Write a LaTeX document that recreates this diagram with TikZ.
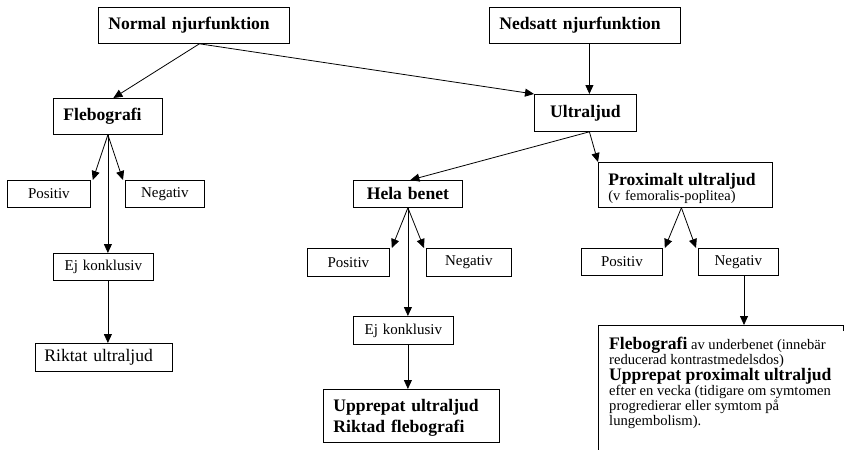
\documentclass[tikz,border=0pt]{standalone}
\usepackage{fontspec}
\setmainfont{Liberation Serif}
\usetikzlibrary{arrows.meta}
\begin{document}
\begin{tikzpicture}[x=1pt,y=-1pt,
  tbox/.style={draw=black, line width=0.8pt, anchor=north west,
    inner ysep=0pt, inner xsep=0pt, align=center},
  padded/.style={inner xsep=#1, align=left},
  head/.style={font=\bfseries\fontsize{17.6}{21}\selectfont},
  plain/.style={font=\fontsize{15}{18}\selectfont},
  arr/.style={line width=0.8pt, -{Triangle[length=9pt,width=8pt]}}
]
\useasboundingbox (0,0) rectangle (846,450);

% top level
\node[tbox, head, padded=10pt, text width=171pt, minimum height=36pt] (normal) at (98,7) {Normal njurfunktion};
\node[tbox, head, padded=10pt, text width=171pt, minimum height=36pt] (nedsatt) at (489,7) {Nedsatt njurfunktion};

% second level
\node[tbox, head, padded=10pt, text width=89pt, minimum height=36pt] (fleb) at (53,98) {Flebografi};
\node[tbox, head, text width=102pt, minimum height=37pt] (ultra) at (534,94) {Ultraljud};

% flebografi branch
\node[tbox, plain, text width=83pt, minimum height=27pt] (posL) at (7,180) {Positiv};
\node[tbox, plain, text width=79pt, minimum height=27pt] (negL) at (125,180) {Negativ};
\node[tbox, plain, text width=100pt, minimum height=27pt] (ejL) at (53,253) {Ej konklusiv};
\node[tbox, font=\fontsize{17.6}{21}\selectfont, padded=9pt, text width=119pt, minimum height=28pt] (riktat) at (35,343) {Riktat ultraljud};

% hela benet branch
\node[tbox, head, text width=109pt, minimum height=27pt] (hela) at (353,180) {Hela benet};
\node[tbox, plain, text width=82pt, minimum height=28pt] (posM) at (307,248) {Positiv};
\node[tbox, plain, text width=85pt, minimum height=28pt] (negM) at (426,248) {Negativ};
\node[tbox, plain, text width=100pt, minimum height=28pt] (ejM) at (353,316) {Ej konklusiv};
\node[tbox, head, padded=10pt, text width=156pt, minimum height=53pt] (upprepat) at (323,389)
  {\rule{0pt}{16pt}Upprepat ultraljud\\Riktad flebografi};

% proximalt branch
\node[tbox, font=\fontsize{14.4}{15}\selectfont, padded=10pt, text width=154pt, minimum height=45pt] (prox) at (598,162)
  {\rule{0pt}{20pt}{\bfseries\fontsize{17.6}{15}\selectfont Proximalt ultraljud}\\(v femoralis-poplitea)};
\node[tbox, plain, text width=81pt, minimum height=27pt] (posR) at (581,248) {Positiv};
\node[tbox, plain, text width=80pt, minimum height=27pt] (negR) at (698,248) {Negativ};

% open recommendation box
\draw[line width=0.8pt] (843,331) -- (843,325) -- (598,325) -- (598,450);
\coordinate (recTop) at (744,325);
\node[anchor=north west, inner sep=0pt, align=left, font=\fontsize{14.6}{15}\selectfont] (rec) at (609,337)
  {{\bfseries\fontsize{17.6}{15}\selectfont Flebografi} av underbenet (inneb^^^^00e4r\\
   reducerad kontrastmedelsdos)\\
   {\bfseries\fontsize{17.6}{15}\selectfont Upprepat proximalt ultraljud}\\
   efter en vecka (tidigare om symtomen\\
   progredierar eller symtom p^^^^00e5\\
   lungembolism).};

% connectors
\coordinate (normalOut) at ([xshift=5.5pt]normal.south);
\draw[arr] (normalOut) -- ([xshift=5.5pt]fleb.north);
\draw[arr] (normalOut) -- (ultra.north west);
\draw[arr] ([xshift=4.5pt]nedsatt.south) -- ([xshift=4.5pt]nedsatt.south |- ultra.north);

\coordinate (ultraOut) at ([xshift=4pt]ultra.south);
\draw[arr] (ultraOut) -- ([xshift=2.5pt]hela.north);
\draw[arr] (ultraOut) -- (prox.north west);

\coordinate (flebOut) at (fleb.south);
\draw[arr] (flebOut) -- ([xshift=2pt]posL.north east);
\draw[arr] (flebOut) -- ([xshift=-2pt]negL.north west);
\draw[arr] (flebOut) -- (flebOut |- ejL.north);
\draw[arr] (flebOut |- ejL.south) -- (flebOut |- riktat.north);

\coordinate (helaOut) at (hela.south);
\draw[arr] (helaOut) -- ([xshift=2pt]posM.north east);
\draw[arr] (helaOut) -- ([xshift=-2pt]negM.north west);
\draw[arr] (helaOut) -- (helaOut |- ejM.north);
\draw[arr] (helaOut |- ejM.south) -- (helaOut |- upprepat.north);

\coordinate (proxOut) at ([xshift=-4pt]prox.south);
\draw[arr] (proxOut) -- ([xshift=2pt]posR.north east);
\draw[arr] (proxOut) -- ([xshift=-2pt]negR.north west);
\draw[arr] (recTop |- negR.south) -- (recTop);
\end{tikzpicture}
\end{document}
